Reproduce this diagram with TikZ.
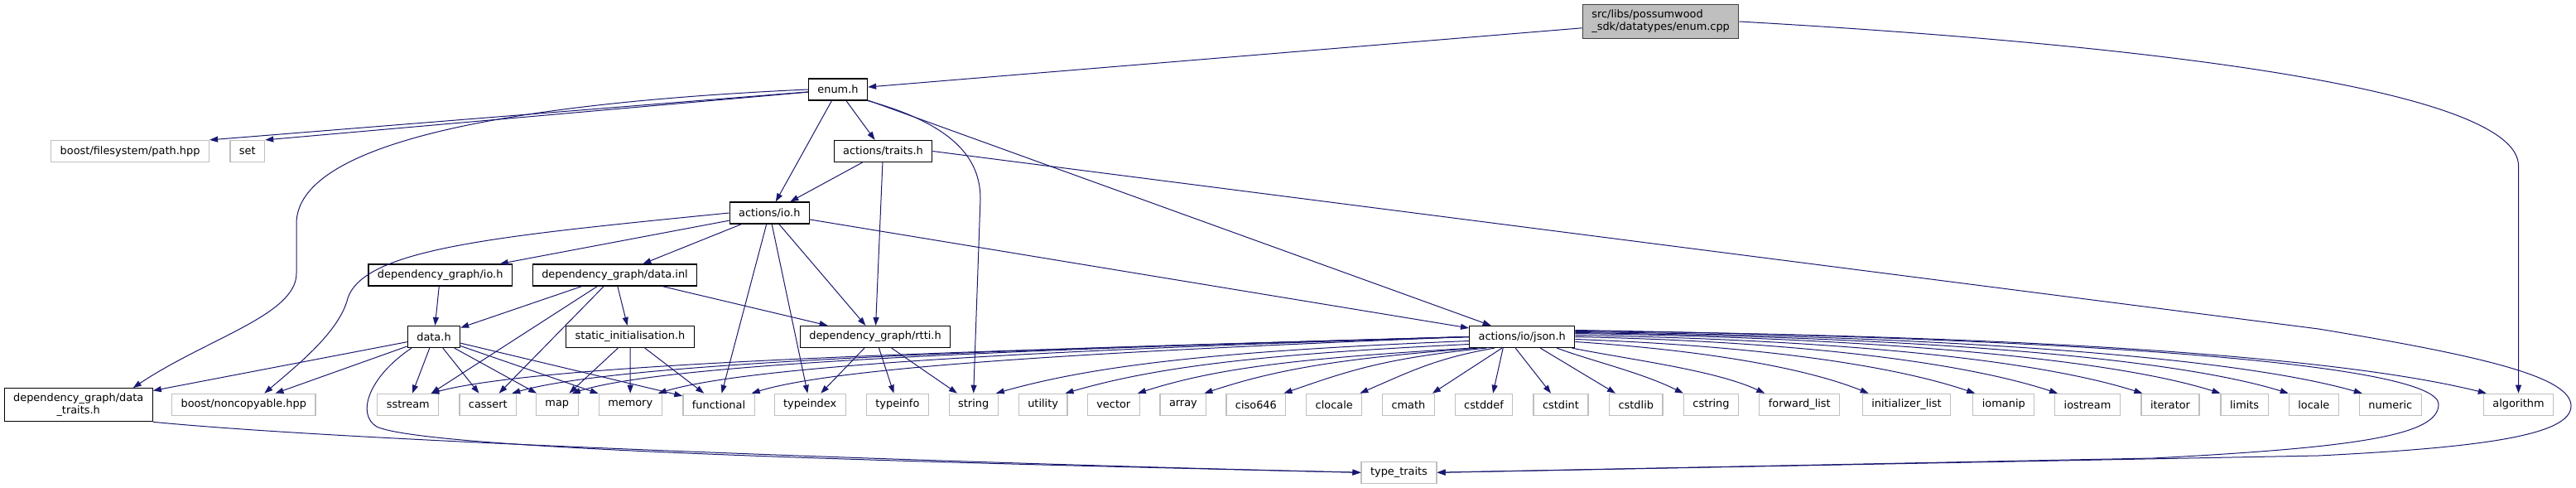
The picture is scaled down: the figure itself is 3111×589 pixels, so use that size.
\documentclass[tikz,border=0pt]{standalone}
\usepackage{fontspec}
\setmainfont{DejaVu Sans}
\usepackage{tikz}
\usetikzlibrary{arrows.meta,positioning}
\definecolor{igblue}{RGB}{25,25,112}
\definecolor{iggray}{RGB}{191,191,191}
\definecolor{igdark}{RGB}{64,64,64}
\tikzset{
  ignode/.style={draw=black, fill=white, line width=1.2pt, inner xsep=11pt, inner ysep=2pt,
    minimum height=26pt, font=\fontsize{12.9}{15}\selectfont},
  igext/.style={ignode, draw=iggray},
  igroot/.style={ignode, fill=iggray, draw=igdark, align=left, minimum height=40.6pt},
  igarrow/.style={-{Triangle[length=10pt,width=7pt]}, line width=1pt, draw=igblue}
}

\begin{document}
\begin{tikzpicture}[x=1pt,y=-1pt]
  \useasboundingbox (0,0) rectangle (3111,589);
  % headers
  \node[igroot] (nCpp) at (2005.6,26.0) {src/libs/possumwood\\\_sdk/datatypes/enum.cpp};
  \node[ignode] (nEnum) at (1012.0,108.0) {enum.h};
  \node[igext] (nPath) at (157.1,182.5) {boost/filesystem/path.hpp};
  \node[igext] (nSet) at (298.8,182.5) {set};
  \node[ignode] (nTraits) at (1066.5,182.5) {actions/traits.h};
  \node[ignode] (nIo) at (929.3,257.0) {actions/io.h};
  \node[ignode] (nGraphIo) at (531.7,332.0) {dependency\_graph/io.h};
  \node[ignode] (nDataInl) at (742.5,332.0) {dependency\_graph/data.inl};
  \node[ignode] (nDataH) at (524.0,406.5) {data.h};
  \node[ignode] (nStatic) at (761.0,406.5) {static\_initialisation.h};
  \node[ignode] (nRtti) at (1057.0,406.5) {dependency\_graph/rtti.h};
  \node[ignode] (nJson) at (1838.2,406.5) {actions/io/json.h};
  \node[ignode, align=center, minimum height=40pt] (nDataTraits) at (94.7,488.7) {dependency\_graph/data\\\_traits.h};
  % system headers
  \node[igext] (nNoncopy) at (294.3,488.3) {boost/noncopyable.hpp};
  \node[igext] (nSstream) at (492.8,488.3) {sstream};
  \node[igext] (nCassert) at (589.3,488.3) {cassert};
  \node[igext] (nMap) at (672.8,488.3) {map};
  \node[igext] (nMemory) at (761.2,488.3) {memory};
  \node[igext] (nFunctional) at (868.0,488.3) {functional};
  \node[igext] (nTypeindex) at (978.2,488.3) {typeindex};
  \node[igext] (nTypeinfo) at (1083.9,488.3) {typeinfo};
  \node[igext] (nString) at (1175.7,488.3) {string};
  \node[igext] (nUtility) at (1259.6,488.3) {utility};
  \node[igext] (nVector) at (1344.8,488.3) {vector};
  \node[igext] (nArray) at (1428.9,488.3) {array};
  \node[igext] (nCiso) at (1516.9,488.3) {ciso646};
  \node[igext] (nClocale) at (1611.2,488.3) {clocale};
  \node[igext] (nCmath) at (1700.9,488.3) {cmath};
  \node[igext] (nCstddef) at (1792.0,488.3) {cstddef};
  \node[igext] (nCstdint) at (1885.0,488.3) {cstdint};
  \node[igext] (nCstdlib) at (1975.8,488.3) {cstdlib};
  \node[igext] (nCstring) at (2066.5,488.3) {cstring};
  \node[igext] (nForward) at (2173.3,488.3) {forward\_list};
  \node[igext] (nInitList) at (2302.5,488.3) {initializer\_list};
  \node[igext] (nIomanip) at (2419.8,488.3) {iomanip};
  \node[igext] (nIostream) at (2521.0,488.3) {iostream};
  \node[igext] (nIterator) at (2621.0,488.3) {iterator};
  \node[igext] (nLimits) at (2710.6,488.3) {limits};
  \node[igext] (nLocale) at (2794.3,488.3) {locale};
  \node[igext] (nNumeric) at (2886.8,488.3) {numeric};
  \node[igext] (nAlgorithm) at (3041.5,488.3) {algorithm};
  \node[igext] (nTypeTraits) at (1689.5,570.3) {type\_traits};
  % enum.cpp
  \draw[igarrow] (nCpp) -- (nEnum);
  \draw[igarrow] (nCpp.east) .. controls (2700,60) and (3041.5,120) .. (3041.5,200) -- (nAlgorithm.north);
  % enum.h
  \draw[igarrow] (nEnum) -- (nPath.north east);
  \draw[igarrow] (nEnum) -- (nSet.north east);
  \draw[igarrow] (nEnum.west) .. controls (600,125) and (358,175) .. (358,270) -- (358,330) .. controls (358,380) and (251,408) .. ([xshift=66pt]nDataTraits.north);
  \draw[igarrow] (nEnum) -- (nIo);
  \draw[igarrow] (nEnum) -- (nTraits);
  \draw[igarrow] (nEnum.south east) .. controls (1150,150) and (1184,190) .. (1184,240) -- (nString.north);
  \draw[igarrow] (nEnum) -- (nJson);
  % actions/traits.h
  \draw[igarrow] (nTraits) -- (nIo);
  \draw[igarrow] (nTraits) -- (nRtti);
  \draw[igarrow] (nTraits.east) -- (2800,397) .. controls (3000,430) and (3105,455) .. (3105,490) .. controls (3105,525) and (3000,540) .. (2800,550) -- (nTypeTraits.east);
  % actions/io.h
  \draw[igarrow] (nIo.west) .. controls (600,285) and (440,300) .. (420,360) .. controls (410,400) and (360,440) .. ([xshift=25pt]nNoncopy.north);
  \draw[igarrow] (nIo) -- (nGraphIo);
  \draw[igarrow] (nIo) -- (nDataInl);
  \draw[igarrow] (nIo) -- (nFunctional);
  \draw[igarrow] (nIo) -- (nTypeindex);
  \draw[igarrow] (nIo) -- (nRtti);
  \draw[igarrow] (nIo) -- (nJson);
  % dependency_graph
  \draw[igarrow] (nGraphIo) -- (nDataH);
  \draw[igarrow] (nDataInl) -- (nDataH);
  \draw[igarrow] (nDataInl) -- ([xshift=28pt]nSstream.north);
  \draw[igarrow] (nDataInl) -- (nCassert);
  \draw[igarrow] (nDataInl) -- (nStatic);
  \draw[igarrow] (nDataInl) -- (nRtti);
  \draw[igarrow] (nStatic) -- (nMap);
  \draw[igarrow] (nStatic) -- (nMemory);
  \draw[igarrow] (nStatic) -- (nFunctional);
  \draw[igarrow] (nRtti) -- (nTypeindex);
  \draw[igarrow] (nRtti) -- (nTypeinfo);
  \draw[igarrow] (nRtti) -- (nString);
  % data.h
  \draw[igarrow] (nDataH) -- (nDataTraits);
  \draw[igarrow] (nDataH) -- (nNoncopy);
  \draw[igarrow] (nDataH) -- (nSstream);
  \draw[igarrow] (nDataH) -- (nCassert);
  \draw[igarrow] (nDataH) -- (nMap);
  \draw[igarrow] (nDataH) -- (nMemory);
  \draw[igarrow] (nDataH) -- (nFunctional);
  \draw[igarrow] ([xshift=-27pt]nDataH.south) .. controls (445,455) and (430,500) .. (455,515) .. controls (520,545) and (1200,560) .. (nTypeTraits.west);
  \draw[igarrow] (nDataTraits.south east) .. controls (450,535) and (1200,560) .. (nTypeTraits.west);
  % actions/io/json.h
  \draw[igarrow] (nJson.west) .. controls +(-500,15) and +(150,-40) .. ([xshift=-10pt]nSstream.north east);
  \draw[igarrow] (nJson.west) .. controls +(-500,14) and +(140,-40) .. ([xshift=-6pt]nCassert.north east);
  \draw[igarrow] (nJson.west) .. controls +(-500,14) and +(120,-38) .. ([xshift=-8pt]nMap.north east);
  \draw[igarrow] (nJson.west) .. controls +(-450,14) and +(120,-36) .. ([xshift=-5pt]nMemory.north east);
  \draw[igarrow] (nJson.west) .. controls +(-400,16) and +(110,-34) .. ([xshift=-4pt]nFunctional.north east);
  \draw[igarrow] ([yshift=-5pt]nJson.west) .. controls +(-300,12) and +(120,-34) .. ([xshift=-3pt]nString.north east);
  \draw[igarrow] ([yshift=-9pt]nJson.west) .. controls +(-250,12) and +(110,-32) .. ([xshift=-3pt]nUtility.north east);
  \draw[igarrow] ([xshift=4pt]nJson.south west) .. controls +(-200,12) and +(100,-32) .. ([xshift=-3pt]nVector.north east);
  \draw[igarrow] ([xshift=11pt]nJson.south west) .. controls +(-160,12) and +(90,-30) .. ([xshift=-3pt]nArray.north east);
  \draw[igarrow] ([xshift=21pt]nJson.south west) .. controls +(-120,12) and +(80,-28) .. ([xshift=-3pt]nCiso.north east);
  \draw[igarrow] ([xshift=31pt]nJson.south west) .. controls +(-70,12) and +(60,-26) .. ([xshift=-3pt]nClocale.north east);
  \draw[igarrow] ([xshift=40pt]nJson.south west) -- ([xshift=-3pt]nCmath.north east);
  \draw[igarrow] ([xshift=-23pt]nJson.south) -- ([xshift=11pt]nCstddef.north);
  \draw[igarrow] ([xshift=-8pt]nJson.south) -- ([xshift=-12pt]nCstdint.north);
  \draw[igarrow] ([xshift=22pt]nJson.south) -- ([xshift=8pt]nCstdlib.north west);
  \draw[igarrow] ([xshift=42pt]nJson.south) .. controls +(40,15) and +(-50,-25) .. (nCstring.north west);
  \draw[igarrow] ([xshift=-4pt]nJson.south east) .. controls +(70,14) and +(-60,-28) .. ([xshift=7pt]nForward.north west);
  \draw[igarrow] ([yshift=-6pt]nJson.east) .. controls +(150,10) and +(-80,-32) .. ([xshift=8pt]nInitList.north west);
  \draw[igarrow] ([yshift=-3pt]nJson.east) .. controls +(220,8) and +(-100,-34) .. ([xshift=3pt]nIomanip.north west);
  \draw[igarrow] (nJson.east) .. controls +(280,6) and +(-110,-36) .. ([xshift=4pt]nIostream.north west);
  \draw[igarrow] ([yshift=2pt]nJson.east) .. controls +(340,6) and +(-120,-38) .. ([xshift=2pt]nIterator.north west);
  \draw[igarrow] ([yshift=4pt]nJson.east) .. controls +(400,6) and +(-120,-38) .. (nLimits.north west);
  \draw[igarrow] ([yshift=5pt]nJson.east) .. controls +(450,6) and +(-130,-40) .. (nLocale.north west);
  \draw[igarrow] ([yshift=6pt]nJson.east) .. controls +(500,6) and +(-140,-40) .. ([xshift=4pt]nNumeric.north west);
  \draw[igarrow] ([yshift=7pt]nJson.east) .. controls +(600,6) and +(-160,-40) .. ([xshift=4pt]nAlgorithm.north west);
  \draw[igarrow] ([yshift=8pt]nJson.east) .. controls (2600,410) and (2945,445) .. (2945,488) .. controls (2945,525) and (2850,540) .. (2600,553) -- (nTypeTraits.east);
\end{tikzpicture}
\end{document}
